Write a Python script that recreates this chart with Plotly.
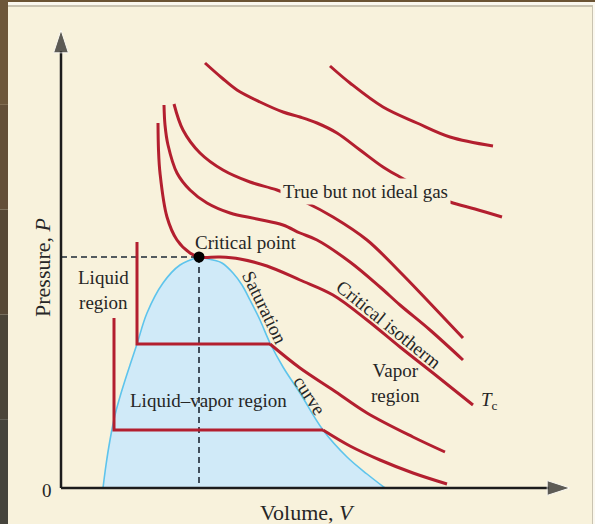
import plotly.graph_objects as go

# ---------------- data (V, P in arbitrary units) ----------------
crit_v, crit_p = 13.8, 23.1

dome_left_v = [4.2, 4.5, 4.9, 5.4, 6.1, 6.9, 7.6, 8.6, 10.2, 11.9, 13.8]
dome_left_p = [0.0, 2.3, 4.8, 7.3, 9.8, 12.3, 14.4, 17.5, 20.5, 22.3, 23.1]
dome_right_v = [15.2, 16.1, 17.2, 18.1, 18.9, 19.9, 20.9, 22.2, 23.9, 26.2, 28.6, 30.6, 32.4]
dome_right_p = [22.8, 22.5, 21.5, 20.3, 18.8, 16.8, 14.5, 12.1, 9.5, 5.8, 3.1, 1.4, 0.0]

# isotherm 1 (lowest): liquid branch + plateau, then vapor branch
iso1_line_v = [5.3, 5.3, 26.2]
iso1_line_p = [17.0, 5.8, 5.8]
iso1_curve_v = [26.2, 28.9, 31.9, 35.2, 38.6]
iso1_curve_p = [5.8, 4.2, 2.8, 1.5, 0.4]

# isotherm 2
iso2_line_v = [7.6, 7.6, 20.9]
iso2_line_p = [24.6, 14.4, 14.4]
iso2_curve_v = [20.9, 23.9, 27.2, 30.6, 35.2, 38.4]
iso2_curve_p = [14.4, 12.0, 9.8, 7.5, 5.1, 3.6]

# critical isotherm Tc
tc_v = [9.7, 9.75, 9.9, 10.6, 11.6, 12.9, 13.8, 15.9, 17.9, 20.6, 23.9, 27.2, 30.6, 33.9, 37.2, 41.2]
tc_p = [36.5, 33.8, 31.5, 27.1, 24.8, 23.5, 23.1, 23.1, 22.9, 22.2, 20.8, 19.3, 16.8, 14.1, 11.5, 8.3]

# higher isotherms
isoB_v = [10.3, 10.4, 10.7, 11.6, 12.9, 14.6, 16.9, 19.6, 22.2, 23.9, 25.6, 28.9, 31.9, 33.9, 36.9, 40.2]
isoB_p = [38.3, 36.3, 34.3, 31.5, 29.8, 28.5, 27.5, 26.9, 26.3, 25.5, 24.8, 22.6, 20.1, 18.3, 15.8, 12.8]

isoC_v = [11.3, 12.2, 13.9, 16.2, 18.9, 21.6, 24.4, 27.2, 30.6, 33.9, 36.6, 40.2]
isoC_p = [38.4, 35.8, 33.5, 31.8, 30.6, 29.8, 28.6, 27.1, 24.8, 21.6, 18.8, 15.0]

isoD_v = [14.4, 16.1, 17.6, 19.9, 22.2, 23.9, 25.6, 27.6, 29.9, 32.2, 33.9, 36.4, 38.9, 41.4, 44.1]
isoD_p = [42.5, 41.0, 39.8, 38.6, 37.6, 37.1, 36.5, 35.5, 33.8, 32.1, 31.1, 29.7, 28.6, 27.9, 27.1]

isoE_v = [26.9, 28.9, 32.2, 35.6, 38.9, 43.2]
isoE_p = [42.2, 40.5, 38.1, 36.5, 35.1, 34.2]

axis_x_end = 50.9
axis_y_end = 45.8

RED = "#b31f2f"
INK = "#1c1c1c"
TXT = "#262626"
CREAM = "#f8f2dc"
SERIF = "Liberation Serif, Times New Roman, serif"

fig = go.Figure()

# saturation dome fill
fig.add_trace(go.Scatter(
    x=dome_left_v + dome_right_v, y=dome_left_p + dome_right_p,
    mode="lines", line=dict(width=0, shape="spline"),
    fill="toself", fillcolor="#d0eaf8", hoverinfo="skip", showlegend=False))
fig.add_trace(go.Scatter(
    x=dome_left_v + [crit_v] + dome_right_v, y=dome_left_p + [crit_p] + dome_right_p,
    mode="lines", line=dict(color="#5ec4ec", width=1.6, shape="spline"),
    hoverinfo="skip", showlegend=False))

# dashed guides to critical point
fig.add_trace(go.Scatter(x=[0, crit_v], y=[crit_p, crit_p], mode="lines",
                         line=dict(color="#1e2a36", width=1.6, dash="6px,4px"),
                         hoverinfo="skip", showlegend=False))
fig.add_trace(go.Scatter(x=[crit_v, crit_v], y=[crit_p, 0], mode="lines",
                         line=dict(color="#1e2a36", width=1.6, dash="6px,4px"),
                         hoverinfo="skip", showlegend=False))

# isotherms
for xs, ys, shp in [
    (iso1_line_v, iso1_line_p, "linear"), (iso1_curve_v, iso1_curve_p, "spline"),
    (iso2_line_v, iso2_line_p, "linear"), (iso2_curve_v, iso2_curve_p, "spline"),
    (tc_v, tc_p, "spline"), (isoB_v, isoB_p, "spline"), (isoC_v, isoC_p, "spline"),
    (isoD_v, isoD_p, "spline"), (isoE_v, isoE_p, "spline")]:
    fig.add_trace(go.Scatter(x=xs, y=ys, mode="lines",
                             line=dict(color=RED, width=3, shape=shp),
                             hoverinfo="skip", showlegend=False))

# axes with arrowheads
fig.add_trace(go.Scatter(x=[0, 0], y=[0, axis_y_end], mode="lines+markers",
                         line=dict(color=INK, width=2.5),
                         marker=dict(symbol=["circle", "arrow"], size=[1, 24], color=INK,
                                     angleref="previous"),
                         hoverinfo="skip", showlegend=False))
fig.add_trace(go.Scatter(x=[0, axis_x_end], y=[0, 0], mode="lines+markers",
                         line=dict(color=INK, width=2.5),
                         marker=dict(symbol=["circle", "arrow"], size=[1, 24], color=INK,
                                     angleref="previous"),
                         hoverinfo="skip", showlegend=False))

# critical point
fig.add_trace(go.Scatter(x=[crit_v], y=[crit_p], mode="markers",
                         marker=dict(color="#000000", size=11),
                         hoverinfo="skip", showlegend=False))

def label(text, x, y, size=19, angle=0, bg=None, **kw):
    d = dict(text=text, x=x, y=y, xref="x", yref="y", showarrow=False,
             font=dict(family=SERIF, size=size, color=TXT), textangle=angle, **kw)
    if bg:
        d.update(bgcolor=bg, borderpad=2)
    fig.add_annotation(**d)

label("Liquid<br>region", 4.2, 19.8)
label("Critical point", 18.5, 24.6)
label("True but not ideal gas", 30.4, 29.7, bg=CREAM)
label("Saturation", 20.4, 18.1, angle=64)
label("curve", 24.9, 9.3, angle=57)
label("Critical isotherm", 32.8, 16.4, angle=39)
label("Vapor<br>region", 33.4, 10.5)
label("Liquid–vapor region", 14.7, 8.8)
label("<i>T</i><sub>c</sub>", 42.8, 8.7)
label("0", -1.4, -0.2)
label("Volume, <i>V</i>", 24.6, -2.4, size=22)
label("Pressure, <i>P</i>", -1.9, 22.0, size=22, angle=-90)

# decorative frame
shapes = [
    dict(type="rect", xref="paper", yref="paper", x0=0, x1=1, y0=1 - 2 / 524, y1=1,
         fillcolor="#6b5434", line_width=0, layer="above"),
    dict(type="rect", xref="paper", yref="paper", x0=0, x1=1, y0=1 - 5 / 524, y1=1 - 2 / 524,
         fillcolor="#fbf8ef", line_width=0, layer="above"),
    dict(type="rect", xref="paper", yref="paper", x0=0, x1=1, y0=1 - 7 / 524, y1=1 - 5 / 524,
         fillcolor="#c9c3b1", line_width=0, layer="above"),
    dict(type="rect", xref="paper", yref="paper", x0=592 / 595, x1=593 / 595, y0=0, y1=1 - 5 / 524,
         fillcolor="#c9c3b1", line_width=0, layer="above"),
    dict(type="rect", xref="paper", yref="paper", x0=593 / 595, x1=1, y0=0, y1=1 - 2 / 524,
         fillcolor="#fbf8ef", line_width=0, layer="above"),
]
strip_cols = ["#6d573a", "#634f37", "#574936", "#4b4538", "#45443c"]
for i, c in enumerate(strip_cols):
    shapes.append(dict(type="rect", xref="paper", yref="paper", x0=0, x1=8 / 595,
                       y0=1 - (i + 1) / len(strip_cols), y1=1 - i / len(strip_cols),
                       fillcolor=c, line_width=0, layer="above"))

fig.update_layout(
    width=595, height=524, margin=dict(l=0, r=0, t=0, b=0),
    paper_bgcolor=CREAM, plot_bgcolor=CREAM,
    xaxis=dict(range=[-6.1, 53.4], visible=False, fixedrange=True),
    yaxis=dict(range=[-3.6, 48.8], visible=False, fixedrange=True),
    shapes=shapes, showlegend=False,
)

fig.write_html("out.html", config={"displayModeBar": False},
               post_script="document.body.style.margin='0';document.body.style.overflow='hidden';")
